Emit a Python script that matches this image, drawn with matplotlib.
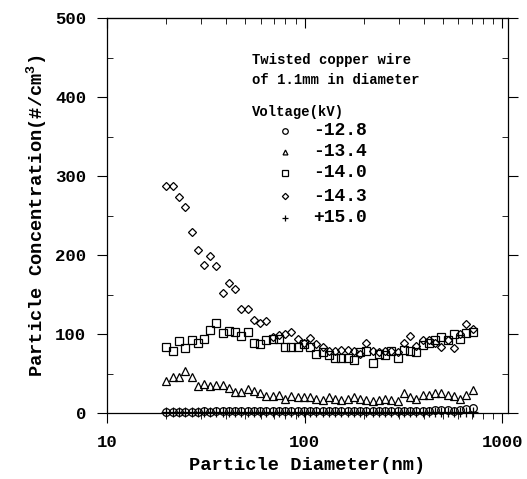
import matplotlib
matplotlib.use("Agg")
import matplotlib.pyplot as plt
from matplotlib.ticker import FixedLocator, LogLocator, NullFormatter

plt.rcParams['font.family'] = ['Liberation Mono', 'DejaVu Sans Mono']
plt.rcParams['font.weight'] = 'bold'
plt.rcParams['mathtext.fontset'] = 'custom'
plt.rcParams['mathtext.rm'] = 'Liberation Mono:bold'
plt.rcParams['mathtext.default'] = 'rm'

# particle diameter (nm), SMPS channels
diameter = [20.0, 21.5, 23.1, 24.9, 26.8, 28.8, 31.0, 33.3, 35.8, 38.5,
            41.4, 44.5, 47.9, 51.5, 55.4, 59.6, 64.1, 68.9, 74.1, 79.7,
            85.7, 92.2, 99.2, 106.7, 114.7, 123.4, 132.7, 142.7, 153.5, 165.1,
            177.5, 190.9, 205.4, 220.9, 237.5, 255.5, 274.8, 295.5, 317.8, 341.8,
            367.6, 395.4, 425.2, 457.3, 491.8, 529.0, 569.0, 612.0, 658.0, 708.0]

# concentrations (#/cm3) for each voltage
v_128 = [1, 1, 1, 1, 1, 1, 2, 1, 2, 2,
         2, 2, 2, 2, 2, 2, 2, 2, 3, 2,
         2, 3, 3, 3, 3, 2, 2, 3, 3, 2,
         3, 3, 3, 3, 2, 2, 3, 3, 3, 3,
         3, 3, 3, 4, 4, 4, 3, 4, 5, 6]
v_134 = [40, 45, 45, 53, 45, 34, 37, 34, 36, 35,
         32, 27, 27, 30, 28, 25, 22, 22, 23, 18,
         22, 20, 20, 20, 18, 16, 20, 18, 16, 18,
         20, 18, 16, 15, 17, 18, 16, 15, 25, 20,
         18, 23, 23, 25, 25, 23, 22, 18, 23, 29]
v_140 = [83, 78, 91, 82, 92, 88, 94, 105, 114, 101,
         104, 103, 98, 102, 89, 87, 92, 94, 94, 84,
         83, 83, 87, 83, 75, 77, 73, 70, 70, 70,
         67, 77, 79, 63, 75, 73, 79, 70, 80, 79,
         77, 86, 89, 92, 96, 92, 100, 94, 101, 103]
v_143 = [287, 287, 273, 261, 229, 206, 187, 199, 186, 152,
         164, 157, 132, 132, 118, 114, 117, 96, 99, 100,
         102, 94, 89, 95, 87, 84, 79, 79, 80, 80,
         78, 75, 89, 79, 77, 79, 79, 77, 89, 98,
         85, 92, 92, 89, 83, 92, 82, 100, 113, 106]
v_150 = [1, 1, 1, 1, 1, 1, 1, 1, 1, 1,
         1, 1, 1, 1, 1, 1, 1, 1, 1, 1,
         1, 1, 1, 1, 1, 1, 1, 1, 1, 1,
         1, 1, 1, 1, 1, 1, 1, 1, 1, 1,
         1, 1, 1, 1, 1, 1, 1, 1, 1, 1]

# (values, marker, data size, legend size, label)
series = [(v_128, 'o', 5.5, 4.0, '-12.8'),
          (v_134, '^', 6.0, 3.5, '-13.4'),
          (v_140, 's', 5.5, 4.0, '-14.0'),
          (v_143, 'D', 4.5, 3.2, '-14.3'),
          (v_150, '+', 7.0, 5.0, '+15.0')]

fig = plt.figure(figsize=(5.27, 4.79), dpi=100)
ax = fig.add_axes([107 / 527, 1 - 413 / 479, 401 / 527, 395 / 479])

for vals, mk, ms, lms, lab in series:
    ax.plot(diameter, vals, linestyle='none', marker=mk, markersize=ms,
            markerfacecolor='none', markeredgecolor='black',
            markeredgewidth=0.9, clip_on=False)

ax.set_xscale('log')
ax.set_xlim(10, 1070)
ax.set_ylim(0, 500)

ax.xaxis.set_major_locator(FixedLocator([10, 100, 1000]))
ax.set_xticklabels(['10', '100', '1000'])
ax.xaxis.set_minor_locator(LogLocator(base=10, subs=range(2, 10)))
ax.xaxis.set_minor_formatter(NullFormatter())
ax.set_yticks([0, 100, 200, 300, 400, 500])
ax.set_yticks([50, 150, 250, 350, 450], minor=True)

ax.tick_params(axis='y', which='both', left=True, right=True,
               labelsize=12.5, pad=8)
ax.tick_params(axis='y', which='major', direction='out', length=7, width=0.8)
ax.tick_params(axis='y', which='minor', direction='in', length=4, width=0.6)
ax.tick_params(axis='x', which='both', direction='out', top=False,
               labelsize=12.5, pad=9)
ax.tick_params(axis='x', which='major', length=7, width=0.8)
ax.tick_params(axis='x', which='minor', length=4, width=0.6)

# top axis ticks point inward
sec = ax.secondary_xaxis('top')
sec.xaxis.set_major_locator(FixedLocator([10, 100, 1000]))
sec.xaxis.set_minor_locator(LogLocator(base=10, subs=range(2, 10)))
sec.tick_params(which='both', direction='in', labeltop=False)
sec.tick_params(which='major', length=7)
sec.tick_params(which='minor', length=4)

for s in ax.spines.values():
    s.set_linewidth(0.9)

ax.set_xlabel('Particle Diameter(nm)', fontsize=13.5, fontweight='bold', labelpad=5)
ax.set_ylabel('Particle Concentration(#/cm$^3$)', fontsize=13.5, fontweight='bold',
              labelpad=4)

# legend block
ax.text(0.362, 0.894, 'Twisted copper wire', transform=ax.transAxes,
        fontsize=10, va='center', ha='left')
ax.text(0.362, 0.843, 'of 1.1mm in diameter', transform=ax.transAxes,
        fontsize=10, va='center', ha='left')
ax.text(0.362, 0.762, 'Voltage(kV)', transform=ax.transAxes,
        fontsize=10, va='center', ha='left')
rows = [0.714, 0.661, 0.608, 0.549, 0.494]
for (vals, mk, ms, lms, lab), ry in zip(series, rows):
    ax.plot([0.444], [ry], transform=ax.transAxes, linestyle='none', marker=mk,
            markersize=lms, markerfacecolor='none', markeredgecolor='black',
            markeredgewidth=0.9)
    ax.text(0.514, ry, lab, transform=ax.transAxes, fontsize=13,
            va='center', ha='left')

fig.savefig('out.png', dpi=100)
